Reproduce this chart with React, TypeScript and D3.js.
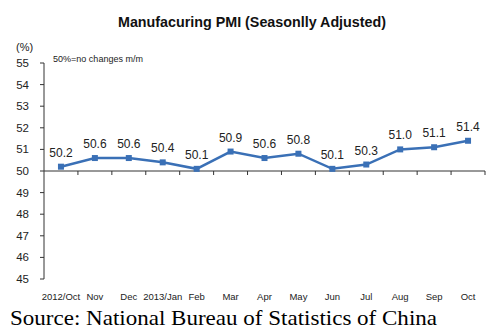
import React from "react";
import * as d3 from "d3";

const categories = ["2012/Oct", "Nov", "Dec", "2013/Jan", "Feb", "Mar", "Apr", "May", "Jun", "Jul", "Aug", "Sep", "Oct"];
const pmiValues = [50.2, 50.6, 50.6, 50.4, 50.1, 50.9, 50.6, 50.8, 50.1, 50.3, 51.0, 51.1, 51.4];
const yTicks = [45, 46, 47, 48, 49, 50, 51, 52, 53, 54, 55];

const W = 500, H = 335;
const left = 44, right = 485, top = 63, bottom = 279;

export default function App() {
  const x = d3.scaleBand<string>().domain(categories).range([left, right]);
  const y = d3.scaleLinear().domain([45, 55]).range([bottom, top]);
  const line = d3.line<number>()
    .x((_, i) => (x(categories[i]) as number) + x.bandwidth() / 2)
    .y((d) => y(d));
  const color = "#3a70b6";
  const font = "Arial, 'Liberation Sans', sans-serif";
  const y50 = y(50);
  return (
    <svg width={W} height={H} style={{ position: "absolute", left: 0, top: 0, background: "#fff" }} fontFamily={font}>
      <rect width={W} height={H} fill="#fff" />
      <text x={118} y={26.5} fontWeight="bold" fontSize={14} fill="#111" textLength={268} lengthAdjust="spacingAndGlyphs">
        Manufacuring PMI (Seasonlly Adjusted)
      </text>
      <text x={16} y={51} fontSize={11} fill="#222">(%)</text>
      <text x={53} y={61.5} fontSize={9.5} fill="#222" textLength={90} lengthAdjust="spacingAndGlyphs">50%=no changes m/m</text>
      {/* y axis */}
      <line x1={left} x2={left} y1={top} y2={bottom} stroke="#333" strokeWidth={1} />
      {yTicks.map((t) => (
        <g key={t}>
          <line x1={left - 4} x2={left} y1={y(t)} y2={y(t)} stroke="#333" />
          <text x={29} y={y(t) + 4} textAnchor="end" fontSize={11.5} fill="#222">{t}</text>
        </g>
      ))}
      {/* x axis at 50 */}
      <line x1={left} x2={right} y1={y50} y2={y50} stroke="#333" strokeWidth={1} />
      {categories.map((c, i) => (
        <g key={c + i}>
          <line x1={(x(c) as number) + x.bandwidth()} x2={(x(c) as number) + x.bandwidth()} y1={y50} y2={y50 + 4} stroke="#333" />
          <text x={(x(c) as number) + x.bandwidth() / 2} y={300} textAnchor="middle" fontSize={9.5} fill="#222">{c}</text>
        </g>
      ))}
      <path d={line(pmiValues) || ""} fill="none" stroke={color} strokeWidth={2.5} />
      {pmiValues.map((v, i) => {
        const cx = (x(categories[i]) as number) + x.bandwidth() / 2;
        return (
          <g key={i}>
            <rect x={cx - 3} y={y(v) - 3} width={6} height={6} fill={color} />
            <text x={cx} y={y(v) - 10} textAnchor="middle" fontSize={12} fill="#222">{v.toFixed(1)}</text>
          </g>
        );
      })}
      <text x={10} y={325} fontFamily="'Liberation Serif', 'Times New Roman', serif" fontSize={22} fill="#000" textLength={427} lengthAdjust="spacingAndGlyphs">
        Source: National Bureau of Statistics of China
      </text>
    </svg>
  );
}
